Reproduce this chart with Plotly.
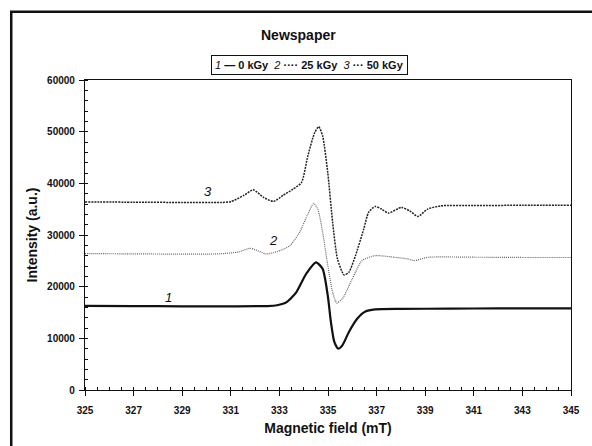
import plotly.graph_objects as go

# EPR spectra of newspaper samples at three irradiation doses
field_0 = [325, 327, 329, 331, 332.5, 332.9, 333.3, 333.7, 334.1, 334.51, 334.78, 334.99,
           335.12, 335.26, 335.42, 335.59, 335.86, 336.2, 336.54, 336.94, 338, 340, 342, 345]
int_0 = [16300, 16250, 16200, 16200, 16250, 16400, 17000, 18950, 22470, 24700, 23440, 18290,
         13150, 9300, 8000, 8640, 11230, 13790, 15200, 15600, 15700, 15750, 15800, 15800]

field_25 = [325, 327, 329, 330.5, 331.3, 331.81, 332.46, 332.9, 333.43, 333.83, 334.17, 334.41,
            334.58, 334.78, 334.99, 335.19, 335.36, 335.59, 336.0, 336.4, 336.94, 337.75,
            338.29, 338.56, 339.1, 341, 343, 345]
int_25 = [26400, 26350, 26300, 26350, 26700, 27430, 26330, 26780, 27930, 30510, 34050, 36110,
          35010, 30510, 24080, 18940, 16820, 17650, 21510, 25040, 26000, 25680,
          25370, 25040, 25680, 25700, 25650, 25650]

field_50 = [325, 327, 329, 330.6, 331.0, 331.55, 331.92, 332.35, 332.76, 333.16, 333.56, 333.91,
            334.17, 334.45, 334.62, 334.78, 334.99, 335.19, 335.39, 335.66, 335.86, 336.13,
            336.47, 336.67, 336.94, 337.21, 337.48, 338.02, 338.36, 338.7, 339.1, 339.64,
            341, 343, 345]
int_50 = [36400, 36350, 36300, 36300, 36450, 37710, 38740, 37270, 36500, 37710, 38870, 40160,
          45300, 49800, 50960, 49150, 42090, 32450, 25370, 22280, 22800, 26000,
          31150, 34370, 35530, 35010, 34240, 35340, 34680, 33600, 35010, 35650,
          35700, 35750, 35750]

curve_labels = ["1", "2", "3"]
label_x = [328.45, 332.75, 330.05]
label_y = [18000, 28900, 38400]

x_ticks = [325, 327, 329, 331, 333, 335, 337, 339, 341, 343, 345]
y_ticks = [0, 10000, 20000, 30000, 40000, 50000, 60000]

FONT = "Liberation Sans, Arial, sans-serif"

fig = go.Figure()
fig.add_trace(go.Scatter(x=field_0, y=int_0, mode="lines",
                         line=dict(color="#111111", width=2.2, shape="spline", smoothing=0.6),
                         name="0 kGy"))
fig.add_trace(go.Scatter(x=field_25, y=int_25, mode="lines",
                         line=dict(color="#666666", width=1.2, dash="1px,1px",
                                   shape="spline", smoothing=0.6),
                         name="25 kGy"))
fig.add_trace(go.Scatter(x=field_50, y=int_50, mode="lines",
                         line=dict(color="#222222", width=1.5, dash="2px,1px",
                                   shape="spline", smoothing=0.6),
                         name="50 kGy"))

for t, xv, yv in zip(curve_labels, label_x, label_y):
    fig.add_annotation(x=xv, y=yv, text=f"<i>{t}</i>", showarrow=False,
                       font=dict(family=FONT, size=13, color="#111111"))

# chart title
fig.add_annotation(xref="paper", yref="paper", x=0.44, y=1.178, text="<b>Newspaper</b>",
                   showarrow=False, font=dict(family=FONT, size=14, color="#111111"))

# boxed key
key_text = ("<i>1</i> <b>\u2014 0 kGy</b>  <i>2</i> <b>\u00b7\u00b7\u00b7\u00b7 25 kGy</b>"
            "  <i>3</i> <b>\u00b7\u00b7\u00b7 50 kGy</b>")
fig.add_annotation(xref="paper", yref="paper", x=0.4626, y=1.080, text=key_text,
                   showarrow=False, font=dict(family=FONT, size=11, color="#111111"),
                   bordercolor="#111111", borderwidth=1, borderpad=3, bgcolor="white")

# outer chart frame
fig.add_shape(type="rect", xref="paper", yref="paper", x0=-0.1518, x1=1.05,
              y0=-0.25, y1=1.2203, line=dict(color="#111111", width=2.5), layer="below")

fig.update_layout(
    width=592, height=446,
    margin=dict(l=85, r=13, t=80, b=55),
    paper_bgcolor="white", plot_bgcolor="white",
    showlegend=False,
    font=dict(family=FONT, color="#111111"),
    xaxis=dict(range=[325, 345], tickvals=x_ticks, ticks="outside", ticklen=5,
               tickwidth=1, tickcolor="#111111",
               minor=dict(dtick=0.5, ticks="inside", ticklen=3, tickcolor="#111111"),
               showline=True, linecolor="#111111", linewidth=1.2, mirror=True,
               showgrid=False, zeroline=False,
               tickfont=dict(family=FONT, size=10, weight="bold"),
               ticklabelstandoff=6,
               title=dict(text="<b>Magnetic field (mT)</b>", standoff=8,
                          font=dict(family=FONT, size=14))),
    yaxis=dict(range=[0, 60000], tickvals=y_ticks, tickformat="d", ticks="outside", ticklen=5,
               tickwidth=1, tickcolor="#111111",
               minor=dict(dtick=2000, ticks="inside", ticklen=3, tickcolor="#111111"),
               showline=True, linecolor="#111111", linewidth=1.2, mirror=True,
               showgrid=False, zeroline=False,
               tickfont=dict(family=FONT, size=10, weight="bold"),
               ticklabelstandoff=2,
               title=dict(text="<b>Intensity (a.u.)</b>", standoff=6,
                          font=dict(family=FONT, size=14))),
)

fig.write_html("out.html")
